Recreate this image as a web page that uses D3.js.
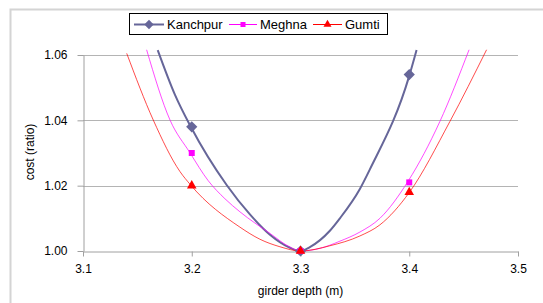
<!DOCTYPE html>
<html>
<head>
<meta charset="utf-8">
<script src="https://cdn.jsdelivr.net/npm/d3@7"></script>
<style>
  body { margin: 0; background: #fff; }
  svg text { font-family: "Liberation Sans", "DejaVu Sans", sans-serif; fill: #000; }
</style>
</head>
<body>
<div id="chart"></div>
<script>
// cost ratio vs girder depth

var seriesNames = ["Kanchpur", "Meghna", "Gumti"];
var seriesColors = ["#666699", "#ff00ff", "#ff0000"];
var seriesShapes = [d3.symbolDiamond2, d3.symbolSquare, d3.symbolTriangle];

// measured points (markers)
var depths = [3.2, 3.3, 3.4];
var kanchpurCost = [1.038, 1.000, 1.054];
var meghnaCost = [1.030, 1.000, 1.021];
var gumtiCost = [1.020, 1.000, 1.018];

// smooth trend curves
var kanchpurCurveX = [3.1687, 3.1846, 3.199, 3.2321, 3.2535, 3.2719, 3.2903, 3.30, 3.3086, 3.3270, 3.3362, 3.3546, 3.3638, 3.40, 3.4067];
var kanchpurCurveY = [1.0615, 1.0478, 1.0381, 1.0202, 1.0112, 1.0050, 1.0010, 1.0000, 1.0012, 1.0062, 1.0100, 1.0190, 1.0250, 1.0536, 1.0615];
var meghnaCurveX = [3.1585, 3.18, 3.1983, 3.2152, 3.2305, 3.2443, 3.2719, 3.2903, 3.30, 3.3178, 3.3362, 3.3546, 3.3730, 3.399, 3.4281, 3.455];
var meghnaCurveY = [1.0616, 1.0401, 1.0301, 1.0215, 1.0160, 1.0120, 1.0054, 1.0012, 1.0000, 1.0008, 1.0030, 1.0058, 1.0100, 1.0214, 1.0396, 1.0616];
var gumtiCurveX = [3.1402, 3.1646, 3.1892, 3.199, 3.2443, 3.2627, 3.2811, 3.30, 3.3270, 3.3546, 3.3730, 3.40, 3.4373, 3.4711];
var gumtiCurveY = [1.0605, 1.0401, 1.0243, 1.0202, 1.0073, 1.0036, 1.0013, 1.0000, 1.0016, 1.0046, 1.0080, 1.0179, 1.0396, 1.0616];

var xTicks = [3.1, 3.2, 3.3, 3.4, 3.5];
var yTicks = [1.00, 1.02, 1.04, 1.06];

var width = 543, height = 303;
var plotLeft = 83, plotRight = 518, plotTop = 55, plotBottom = 251;

var svg = d3.select("#chart").append("svg")
    .attr("width", width)
    .attr("height", height);

// chart frame
svg.append("rect")
    .attr("x", 10.5).attr("y", 9.5)
    .attr("width", width + 10).attr("height", height + 10)
    .attr("fill", "#fff")
    .attr("stroke", "#d4d4d4")
    .attr("stroke-width", 2);

var x = d3.scaleLinear().domain([3.1, 3.5]).range([plotLeft, plotRight]);
var y = d3.scaleLinear().domain([1.00, 1.06]).range([plotBottom, plotTop]);

// gridlines
svg.append("g")
    .selectAll("line")
    .data(yTicks.slice(1))
    .join("line")
    .attr("x1", plotLeft).attr("x2", plotRight)
    .attr("y1", d => Math.round(y(d)) + 0.5)
    .attr("y2", d => Math.round(y(d)) + 0.5)
    .attr("stroke", "#b4b4b4");

// axes
var xAxis = svg.append("g")
    .attr("transform", "translate(0," + (plotBottom + 0.5) + ")")
    .call(d3.axisBottom(x).tickValues(xTicks).tickFormat(d3.format(".1f")).tickSizeInner(5).tickSizeOuter(0).tickPadding(6));
var yAxis = svg.append("g")
    .attr("transform", "translate(" + (plotLeft + 0.5) + ",0)")
    .call(d3.axisLeft(y).tickValues(yTicks).tickFormat(d3.format(".2f")).tickSizeInner(6).tickSizeOuter(0).tickPadding(10));

[xAxis, yAxis].forEach(function(a) {
    a.selectAll("path, line").attr("stroke", "#a0a0a0");
    a.selectAll("text").style("font-size", "12px");
});
xAxis.selectAll("text").attr("dy", "0.9em");

// axis titles
svg.append("text")
    .attr("x", (plotLeft + plotRight) / 2)
    .attr("y", 295)
    .attr("text-anchor", "middle")
    .style("font-size", "12px")
    .text("girder depth (m)");

svg.append("text")
    .attr("transform", "translate(34,152)rotate(-90)")
    .attr("text-anchor", "middle")
    .style("font-size", "12px")
    .text("cost (ratio)");

// curves
var curves = [
    {x: kanchpurCurveX, y: kanchpurCurveY, w: 2},
    {x: meghnaCurveX, y: meghnaCurveY, w: 1},
    {x: gumtiCurveX, y: gumtiCurveY, w: 1}
];
var line = d3.line()
    .x(d => x(d[0]))
    .y(d => y(d[1]))
    .curve(d3.curveMonotoneX);

svg.append("g")
    .selectAll("path")
    .data(curves)
    .join("path")
    .attr("d", c => line(d3.zip(c.x, c.y)))
    .attr("fill", "none")
    .attr("stroke", (c, i) => seriesColors[i])
    .attr("stroke-opacity", (c, i) => i === 0 ? 1 : 0.7)
    .attr("stroke-width", c => c.w);

// markers
var points = [kanchpurCost, meghnaCost, gumtiCost];
var markerSizes = [80, 36, 40];
points.forEach(function(vals, i) {
    svg.append("g")
        .selectAll("path")
        .data(d3.zip(depths, vals))
        .join("path")
        .attr("transform", d => "translate(" + x(d[0]) + "," + y(d[1]) + ")")
        .attr("d", d3.symbol().type(seriesShapes[i]).size(markerSizes[i]))
        .attr("fill", seriesColors[i]);
});

// legend
var legend = svg.append("g");
legend.append("rect")
    .attr("x", 129.5).attr("y", 13.5)
    .attr("width", 258).attr("height", 21)
    .attr("fill", "#fff")
    .attr("stroke", "#000");

var legendX = [134, 229, 313];
var legendW = [30, 28, 29];
seriesNames.forEach(function(name, i) {
    var g = legend.append("g").attr("transform", "translate(" + legendX[i] + ",24.5)");
    g.append("line")
        .attr("x1", 0).attr("x2", legendW[i])
        .attr("stroke", seriesColors[i])
        .attr("stroke-width", i === 0 ? 2 : 1);
    g.append("path")
        .attr("transform", "translate(" + legendW[i] / 2 + ",0)")
        .attr("d", d3.symbol().type(seriesShapes[i]).size(markerSizes[i] * 0.7))
        .attr("fill", seriesColors[i]);
    g.append("text")
        .attr("x", legendW[i] + 3)
        .attr("y", 0)
        .attr("dy", "0.35em")
        .style("font-size", "13px")
        .text(name);
});
</script>
</body>
</html>
